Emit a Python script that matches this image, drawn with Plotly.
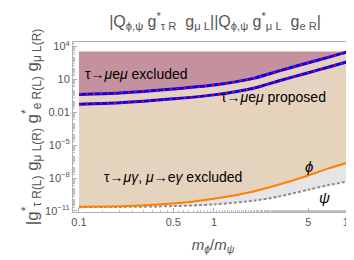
import plotly.graph_objects as go

# ---- data ----
ratio = [0.1, 0.2, 0.5, 1, 2, 3, 5, 7, 10]          # m_phi / m_psi
excluded_3body = [0.42, 0.57, 1.31, 3.0, 12.8, 55, 320, 1000, 3470]   # tau -> mu e mu excluded
proposed_3body = [0.053, 0.072, 0.165, 0.38, 1.61, 6.9, 40, 126, 437]  # tau -> mu e mu proposed
radiative_phi = [2.4e-11, 2.6e-11, 4.7e-11, 1.3e-10, 6.3e-10, 2.4e-9, 1.7e-8, 7.2e-8, 2.7e-7]
radiative_psi = [2.2e-11, 2.3e-11, 2.75e-11, 3.9e-11, 8.7e-11, 2.0e-10, 8.5e-10, 2.2e-9, 5.0e-9]
region_top = 3470

x_tickvals = [0.1, 0.5, 1, 5, 10]
x_ticktext = ["0.1", "0.5", "1", "5", "10"]
y_tickvals = [1e4, 10, 0.01, 1e-5, 1e-8, 1e-11]
y_ticktext = ["10<sup>4</sup>", "10", "0.01", "10<sup>−5</sup>", "10<sup>−8</sup>", "10<sup>−11</sup>"]

MAUVE = "#c4929f"
TAN = "#e6d3be"
GREY = "#e5e5e5"
ORANGE = "#ff8000"
FONT = "Liberation Sans"

fig = go.Figure()
nol = dict(width=0, shape="spline", smoothing=0.8)
# grey band between psi and phi
fig.add_trace(go.Scatter(x=ratio, y=radiative_psi, mode="lines", line=nol, hoverinfo="skip"))
fig.add_trace(go.Scatter(x=ratio, y=radiative_phi, mode="lines", line=nol, fill="tonexty",
                         fillcolor=GREY, hoverinfo="skip"))
# tan band between phi and excluded line
fig.add_trace(go.Scatter(x=ratio, y=excluded_3body, mode="lines", line=nol, fill="tonexty",
                         fillcolor=TAN, hoverinfo="skip"))
# mauve band above excluded line
fig.add_trace(go.Scatter(x=ratio, y=[region_top] * len(ratio), mode="lines", line=nol,
                         fill="tonexty", fillcolor=MAUVE, hoverinfo="skip"))

# lines
fig.add_trace(go.Scatter(x=ratio, y=radiative_psi, mode="lines",
                         line=dict(color="#8c8c8c", width=2, dash="3px,2px", shape="spline", smoothing=0.8)))
fig.add_trace(go.Scatter(x=ratio, y=radiative_phi, mode="lines",
                         line=dict(color=ORANGE, width=2, shape="spline", smoothing=0.8)))
for ys in (proposed_3body, excluded_3body):
    fig.add_trace(go.Scatter(x=ratio, y=ys, mode="lines",
                             line=dict(color="#0000ff", width=3, shape="spline", smoothing=0.8)))
    fig.add_trace(go.Scatter(x=ratio, y=ys, mode="lines",
                             line=dict(color="#ff0000", width=2, dash="2px,5px", shape="spline", smoothing=0.8)))

def label(text, x, y, size=14, xanchor="left"):
    fig.add_annotation(x=x, y=y, xref="paper", yref="paper", text=text, showarrow=False,
                       xanchor=xanchor, yanchor="middle", font=dict(family=FONT, size=size, color="black"))

label("τ→<i>μ</i>e<i>μ</i> excluded", 0.035, 0.81)
label("τ→<i>μ</i>e<i>μ</i> proposed", 0.52, 0.675)
label("τ→<i>μγ</i>, <i>μ</i>→e<i>γ</i> excluded", 0.105, 0.205)
label("<i>ϕ</i>", 0.82, 0.265, size=15)
label("<i>ψ</i>", 0.87, 0.085, size=15)

axis_common = dict(showline=True, mirror=True, linecolor="#b0b0b0", linewidth=1,
                   ticks="inside", ticklen=4, tickcolor="#b0b0b0", showgrid=False, zeroline=False,
                   tickfont=dict(family=FONT, size=11, color="#555555"))
fig.update_xaxes(type="log", range=[-1.044, 1.03], tickvals=x_tickvals, ticktext=x_ticktext,
                 minor=dict(ticks="inside", ticklen=2, tickcolor="#c0c0c0"),
                 title=dict(text="<i>m<sub>ϕ</sub></i>/<i>m<sub>ψ</sub></i>", standoff=12,
                            font=dict(family=FONT, size=15, color="#555555")),
                 **axis_common)
fig.update_yaxes(type="log", range=[-11.1, 4.4], tickvals=y_tickvals, ticktext=y_ticktext,
                 minor=dict(ticks="inside", ticklen=2, tickcolor="#c0c0c0", dtick="D1", showgrid=False),
                 title=dict(text="|g<sup>*</sup><sub>τ R(L)</sub> g<sub>μ L(R)</sub> g<sup>*</sup><sub>e R(L)</sub> g<sub>μ L(R)</sub>",
                            standoff=2, font=dict(family=FONT, size=17, color="#555555")),
                 **axis_common)

fig.update_layout(
    width=354, height=260, showlegend=False,
    margin=dict(l=65, r=7, t=34, b=56),
    plot_bgcolor="white", paper_bgcolor="white",
    title=dict(text="|Q<sub>ϕ,ψ</sub> g<sup>*</sup><sub>τ R</sub>  g<sub>μ L</sub>||Q<sub>ϕ,ψ</sub> g<sup>*</sup><sub>μ L</sub>  g<sub>e R</sub>|",
               x=0.585, xanchor="center", y=0.95, yanchor="middle",
               font=dict(family=FONT, size=16, color="#555555")),
)
fig.write_html("out.html")
